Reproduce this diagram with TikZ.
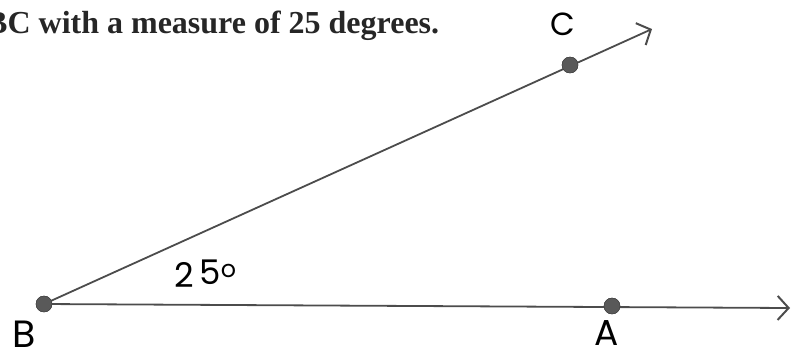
\documentclass[tikz,border=0pt]{standalone}
\usepackage{fontspec}
\setmainfont{Liberation Serif}
\newfontfamily\handfont{Poppins}
\usetikzlibrary{arrows.meta}
\tikzset{
  ray/.style={draw=black!70, line width=1.8pt, -{Straight Barb[length=11pt,width=24pt,line width=2pt]}},
  pt/.style={circle, fill=black!65, draw=black!75, inner sep=0pt, minimum size=16pt},
  hand/.style={font=\handfont\fontsize{32}{32}\selectfont, text=black, inner sep=0pt}
}
\begin{document}
\begin{tikzpicture}[x=1pt,y=-1pt]
\useasboundingbox (0,0) rectangle (791,360);
\clip (0,0) rectangle (791,360);
\node[anchor=base west, inner sep=0pt, font=\bfseries\fontsize{32}{32}\selectfont, text=black!85] (title) at (-14,33) {BC with a measure of 25 degrees.};
\node[pt] (B) at (44,304) {};
\node[pt] (C) at (570,65) {};
\node[pt] (A) at (612,306) {};
\coordinate (Cend) at (652,29);
\coordinate (Aend) at (790,308);
\draw[ray] (B.center) -- (Cend);
\draw[ray] (B.center) -- (Aend);
\node[pt] at (B) {};
\node[pt] at (C) {};
\node[pt] at (A) {};
\node[hand, anchor=base] (Cl) at (563,35) {C};
\node[hand, anchor=base, font=\handfont\fontsize{38}{38}\selectfont] (Bl) at (24,347) {B};
\node[hand, anchor=base, font=\handfont\fontsize{36}{36}\selectfont] (Al) at (607,345) {A};
\node[hand, anchor=base west, font=\handfont\fontsize{34}{34}\selectfont] (ang) at (174,287) {2\,\raisebox{3pt}{5}\textsuperscript{o}};
\end{tikzpicture}
\end{document}
